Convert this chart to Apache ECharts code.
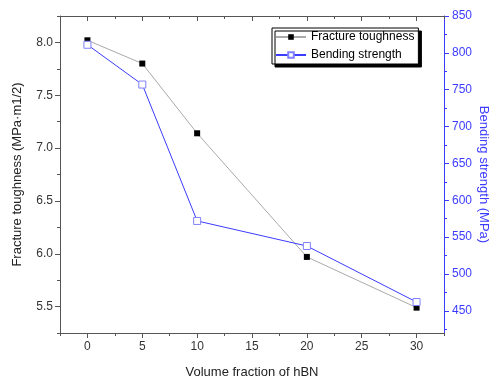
<!DOCTYPE html>
<html><head><meta charset="utf-8">
<script src="https://cdn.jsdelivr.net/npm/echarts@6/dist/echarts.min.js"></script>
<style>html,body{margin:0;padding:0;background:#fff}#c{width:492px;height:380px}</style>
</head><body><div id="c"></div>
<script>
const fractions = [0, 5, 10, 20, 30];
const toughness = [8.02, 7.80, 7.14, 5.97, 5.49];
const strength = [811, 757, 572, 538, 462];
const xMajor = [0, 5, 10, 15, 20, 25, 30];
const xMinor = [-2.5, 2.5, 7.5, 12.5, 17.5, 22.5, 27.5, 32.5];
const yLeftMajor = [5.5, 6.0, 6.5, 7.0, 7.5, 8.0];
const yLeftMinor = [5.25, 5.75, 6.25, 6.75, 7.25, 7.75, 8.25];
const yRightMajor = [450, 500, 550, 600, 650, 700, 750, 800, 850];
const yRightMinor = [425, 475, 525, 575, 625, 675, 725, 775, 825];

const font = 'Liberation Sans, Arial, sans-serif';
const gray = '#555';
const blue = '#3c3cff';
const chart = echarts.init(document.getElementById('c'), null, {renderer: 'canvas'});
const xr = {min: -2.5, max: 32.5};
const yl = {min: 5.25, max: 8.25};
const yr = {min: 420, max: 850};

chart.setOption({
  animation: false,
  backgroundColor: '#fff',
  grid: {left: 60, right: 48, top: 16, bottom: 47, containLabel: false, outerBoundsMode: 'none'},
  legend: {
    orient: 'vertical', left: 272, top: 28,
    backgroundColor: '#fff', borderColor: '#000', borderWidth: 1,
    shadowColor: '#000', shadowOffsetX: 3, shadowOffsetY: 3, shadowBlur: 0,
    padding: [3, 4, 3, 3], itemGap: 6, itemWidth: 30, itemHeight: 7,
    textStyle: {fontFamily: font, fontSize: 12, color: '#000'},
    data: ['Fracture toughness', 'Bending strength']
  },
  xAxis: [
    {type: 'value', position: 'bottom', ...xr,
     name: 'Volume fraction of hBN', nameLocation: 'middle', nameGap: 33, nameMoveOverlap: false,
     nameTextStyle: {fontFamily: font, fontSize: 13, color: '#222'},
     axisLine: {show: true, onZero: false, lineStyle: {color: gray, width: 1}},
     axisTick: {show: true, length: 5, customValues: xMajor, lineStyle: {color: gray}},
     axisLabel: {customValues: xMajor, fontFamily: font, fontSize: 12, color: '#333', margin: 8},
     splitLine: {show: false}},
    {type: 'value', position: 'bottom', ...xr,
     axisLine: {show: false, onZero: false},
     axisTick: {show: true, length: 3, customValues: xMinor, lineStyle: {color: gray}},
     axisLabel: {show: false}, splitLine: {show: false}},
    {type: 'value', position: 'top', ...xr,
     axisLine: {show: true, onZero: false, lineStyle: {color: gray, width: 1}},
     axisTick: {show: true, inside: true, length: 5, customValues: xMajor, lineStyle: {color: gray}},
     axisLabel: {show: false}, splitLine: {show: false}},
    {type: 'value', position: 'top', ...xr,
     axisLine: {show: false, onZero: false},
     axisTick: {show: true, inside: true, length: 3, customValues: xMinor, lineStyle: {color: gray}},
     axisLabel: {show: false}, splitLine: {show: false}}
  ],
  yAxis: [
    {type: 'value', position: 'left', ...yl,
     name: 'Fracture toughness (MPa·m1/2)', nameLocation: 'middle', nameGap: 36, nameMoveOverlap: false,
     nameTextStyle: {fontFamily: font, fontSize: 13, color: '#222'},
     axisLine: {show: true, onZero: false, lineStyle: {color: gray, width: 1}},
     axisTick: {show: true, length: 5, customValues: yLeftMajor, lineStyle: {color: gray}},
     axisLabel: {customValues: yLeftMajor, fontFamily: font, fontSize: 12, color: '#333', margin: 7,
       formatter: v => v.toFixed(1)},
     splitLine: {show: false}},
    {type: 'value', position: 'left', ...yl,
     axisLine: {show: false, onZero: false},
     axisTick: {show: true, length: 3, customValues: yLeftMinor, lineStyle: {color: gray}},
     axisLabel: {show: false}, splitLine: {show: false}},
    {type: 'value', position: 'right', ...yr,
     name: 'Bending strength (MPa)', nameLocation: 'middle', nameGap: 33, nameRotate: -90, nameMoveOverlap: false,
     nameTextStyle: {fontFamily: font, fontSize: 13, color: blue},
     axisLine: {show: true, onZero: false, lineStyle: {color: blue, width: 1}},
     axisTick: {show: true, length: 5, customValues: yRightMajor, lineStyle: {color: blue}},
     axisLabel: {customValues: yRightMajor, fontFamily: font, fontSize: 12, color: blue, margin: 8},
     splitLine: {show: false}},
    {type: 'value', position: 'right', ...yr,
     axisLine: {show: false, onZero: false},
     axisTick: {show: true, length: 3, customValues: yRightMinor, lineStyle: {color: blue}},
     axisLabel: {show: false}, splitLine: {show: false}}
  ],
  series: [
    {name: 'Fracture toughness', type: 'line', xAxisIndex: 0, yAxisIndex: 0,
     data: fractions.map((f, i) => [f, toughness[i]]),
     lineStyle: {color: '#aaaaaa', width: 1}, itemStyle: {color: '#000', borderColor: '#000', borderWidth: 0},
     symbol: 'rect', symbolSize: 6, showAllSymbol: true},
    {name: 'Bending strength', type: 'line', xAxisIndex: 0, yAxisIndex: 2,
     data: fractions.map((f, i) => [f, strength[i]]),
     lineStyle: {color: blue, width: 1}, itemStyle: {color: '#fff', borderColor: '#8080ff', borderWidth: 1},
     symbol: 'rect', symbolSize: 7, showAllSymbol: true}
  ]
});
</script></body></html>
